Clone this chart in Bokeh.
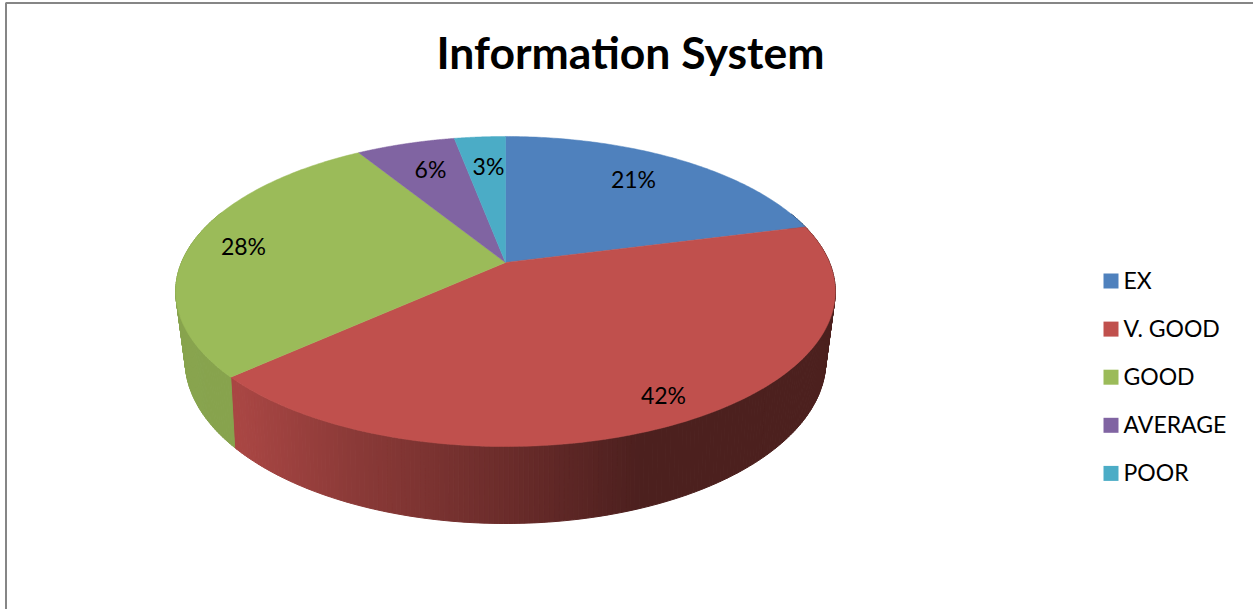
import numpy as np
from bokeh.plotting import figure
from bokeh.models import ColumnDataSource
from bokeh.core.properties import value
from bokeh.embed import file_html
from bokeh.resources import INLINE

title = "Information System"
categories = ["EX", "V. GOOD", "GOOD", "AVERAGE", "POOR"]
percents = [21, 42.3, 27.9, 5.8, 3]
colors = ["#4F81BD", "#C0504D", "#9BBB59", "#8064A2", "#4BACC6"]
label_x = [633, 663, 243, 430, 488]
label_y = [178, 394, 245, 168, 165]

FONT = "Lato"
W, H = 1253, 609
CX = 505

def project(theta, A, B, k, y0):
    u, v = np.sin(theta), np.cos(theta)
    d = 1 + k * v
    return CX + A * u / d, y0 - B * v / d

def top(theta):
    return project(theta, 324, 149.6, 0.187, 262)

def low(theta):
    return project(theta, 313, 155.6, 0.213, 325.3)

def hex2(c):
    return np.array([int(c[i:i + 2], 16) for i in (1, 3, 5)], float)

def wall_color(name, x):
    # the side darkens from left to right
    xs = [180, 240, 350, 505, 640, 840]
    if name == "GOOD":
        ls = [0.88, 0.87, 0.87, 0.87, 0.87, 0.87]
    else:
        ls = [0.90, 0.88, 0.73, 0.56, 0.40, 0.40]
    f = np.interp(x, xs, ls)
    r, g, b = hex2(colors[categories.index(name)]) * f
    return f"#{int(r):02x}{int(g):02x}{int(b):02x}"

p = figure(width=W, height=H, x_range=(0, W), y_range=(H, 0), output_backend="svg",
           toolbar_location=None, min_border=0, margin=(0, 0, 0, 0),
           outline_line_color=None, background_fill_color="white", border_fill_color="white")
p.axis.visible = False
p.grid.visible = False

# chart frame (only the top and left edges are in view)
p.line([5.5, 5.5, W], [H, 2.5, 2.5], line_color="#868686", line_width=2)

edges = np.cumsum([0] + percents) / sum(percents) * 2 * np.pi

# side wall
qx, qy, qc = [], [], []
for i, name in enumerate(categories):
    n = max(2, int(percents[i] * 5))
    t = np.linspace(edges[i], edges[i + 1], n + 1)
    for a, b in zip(t[:-1], t[1:]):
        if np.cos((a + b) / 2) > 0.35:
            continue
        xa, ya = top(a); xb, yb = top(b)
        xc, yc = low(b); xd, yd = low(a)
        qx.append([xa, xb, xc, xd]); qy.append([ya, yb, yc, yd])
        qc.append(wall_color(name, (xa + xb) / 2))
p.patches(xs=qx, ys=qy, fill_color=qc, line_color=qc, line_width=1)

# top face
for i, name in enumerate(categories):
    t = np.linspace(edges[i], edges[i + 1], 120)
    x, y = top(t)
    p.patch(np.r_[CX, x], np.r_[262, y], fill_color=colors[i], line_color=colors[i], line_width=0.5)

# percent labels
src = ColumnDataSource(dict(x=label_x, y=label_y, t=[f"{round(v)}%" for v in percents]))
p.text("x", "y", text="t", source=src, text_font=value(FONT), text_font_size="23px",
       text_color="black", text_align="center", text_baseline="middle")

# title
p.text([630], [51], text=[title], text_font=value(FONT), text_font_size="44.5px",
       text_font_style="bold", text_color="black", text_align="center", text_baseline="middle")

# legend
ly = [280.5 + 48.1 * i for i in range(len(categories))]
ty = [v - 1.5 for v in ly]
p.rect([1110.5] * len(categories), ly, width=15, height=15, fill_color=colors, line_color=None)
p.text([1123] * len(categories), ty, text=categories, text_font=value(FONT), text_font_size="23px",
       text_color="black", text_align="left", text_baseline="middle")

open("out.html", "w").write(file_html(p, INLINE))
